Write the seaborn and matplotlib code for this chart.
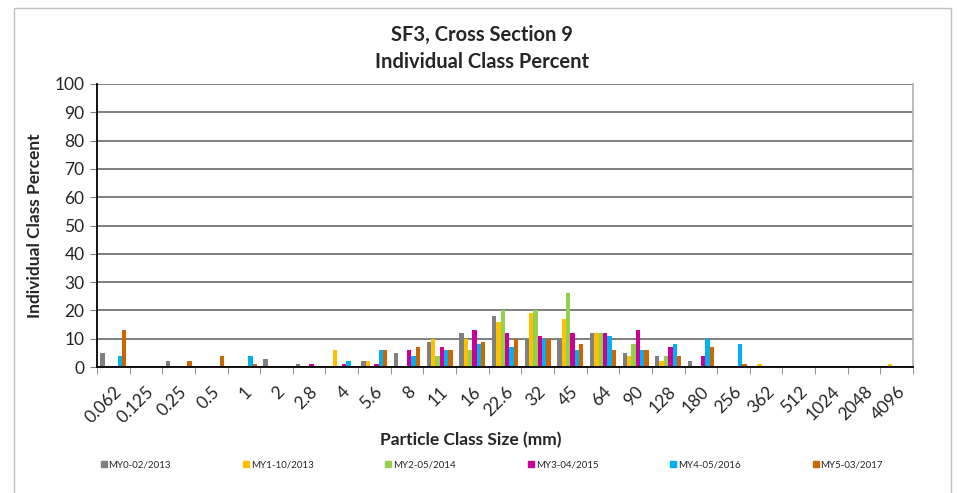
import matplotlib
matplotlib.use("Agg")
import matplotlib.pyplot as plt
import matplotlib.patches as mpatches
from matplotlib.lines import Line2D
import seaborn as sns
import pandas as pd
import numpy as np

# particle size classes (mm)
sizes = ['0.062', '0.125', '0.25', '0.5', '1', '2', '2.8', '4', '5.6', '8', '11', '16',
         '22.6', '32', '45', '64', '90', '128', '180', '256', '362', '512', '1024', '2048', '4096']

series = ['MY0-02/2013', 'MY1-10/2013', 'MY2-05/2014', 'MY3-04/2015', 'MY4-05/2016', 'MY5-03/2017']

my0 = [5, 0, 2, 0, 0, 3, 1, 0, 2, 5, 9, 12, 18, 10, 10, 12, 5, 4, 2, 0, 0, 0, 0, 0, 0]
my1 = [0, 0, 0, 0, 0, 0, 0, 6, 2, 0, 10, 10, 16, 19, 17, 12, 4, 2, 0, 0, 1, 0, 0, 0, 1]
my2 = [0, 0, 0, 0, 0, 0, 0, 0, 0, 0, 4, 6, 20, 20, 26, 12, 8, 4, 0, 0, 0, 0, 0, 0, 0]
my3 = [0, 0, 0, 0, 0, 0, 1, 1, 1, 6, 7, 13, 12, 11, 12, 12, 13, 7, 4, 0, 0, 0, 0, 0, 0]
my4 = [4, 0, 0, 0, 4, 0, 0, 2, 6, 4, 6, 8, 7, 10, 6, 11, 6, 8, 10, 8, 0, 0, 0, 0, 0]
my5 = [13, 0, 2, 4, 1, 0, 0, 0, 6, 7, 6, 9, 10, 10, 8, 6, 6, 4, 7, 1, 0, 0, 0, 0, 0]

colors = ['#808080', '#FFC000', '#92D050', '#CC0099', '#00B0F0', '#CC6600']

rows = []
for name, vals in zip(series, [my0, my1, my2, my3, my4, my5]):
    for s, v in zip(sizes, vals):
        rows.append({'Size': s, 'Series': name, 'Percent': v})
df = pd.DataFrame(rows)

sns.set_style("white")
plt.rcParams['font.family'] = ['Lato', 'DejaVu Sans']

fig = plt.figure(figsize=(9.57, 4.93), dpi=100)
ax = fig.add_axes([97 / 957, 1 - 367 / 493, 816 / 957, 283 / 493])

sns.barplot(data=df, x='Size', y='Percent', hue='Series', order=sizes, hue_order=series,
            palette=colors, width=0.8, saturation=1, ax=ax, legend=False,
            edgecolor='none', linewidth=0)

ax.set_xlim(-0.5, len(sizes) - 0.5)
ax.set_ylim(0, 100)
ax.set_yticks(np.arange(0, 101, 10))
ax.yaxis.grid(True, color='#6a6a6a', linewidth=1.2)
ax.set_axisbelow(True)

for side in ['left', 'bottom']:
    ax.spines[side].set_color('black')
    ax.spines[side].set_linewidth(1.3)
ax.spines['top'].set_visible(False)
ax.spines['right'].set_color('#b0b0b0')
ax.spines['right'].set_linewidth(1.2)

ax.tick_params(axis='y', which='major', direction='out', length=5, color='#808080',
               labelsize=12.5, pad=4, left=True)
ax.set_xticks(range(len(sizes)))
ax.set_xticklabels(sizes, rotation=45, ha='right', rotation_mode='anchor', fontsize=12.5)
ax.tick_params(axis='x', which='major', length=0, pad=12)
ax.set_xticks(np.arange(-0.5, len(sizes), 1), minor=True)
ax.tick_params(axis='x', which='minor', direction='out', length=5, color='#808080',
               bottom=True)

ax.set_xlabel('')
ax.set_ylabel('Individual Class Percent', fontsize=12.5, fontweight='bold', labelpad=8)

fig.text(482 / 957, 1 - 35 / 493, 'SF3, Cross Section 9', ha='center', va='center',
         fontsize=14.5, fontweight='bold')
fig.text(482 / 957, 1 - 62 / 493, 'Individual Class Percent', ha='center', va='center',
         fontsize=14.5, fontweight='bold')
fig.text(471 / 957, 1 - 440 / 493, 'Particle Class Size (mm)', ha='center', va='center',
         fontsize=12.5, fontweight='bold')

handles = [Line2D([0], [0], marker='s', linestyle='none', markersize=5,
                  markerfacecolor=c, markeredgecolor=c) for c in colors]
fig.legend(handles, series, loc='center left', ncol=6, frameon=False, fontsize=7,
           bbox_to_anchor=(95 / 957, 1 - 465 / 493), handletextpad=0.0,
           handlelength=1.0, columnspacing=7.2, borderaxespad=0)

# chart area border
fig.patches.append(mpatches.Rectangle((14 / 957, -0.05), 937 / 957, 1.05 - 8 / 493,
                                      transform=fig.transFigure, fill=False,
                                      edgecolor='#c0c0c0', linewidth=1))

fig.savefig('out.png', dpi=100)
